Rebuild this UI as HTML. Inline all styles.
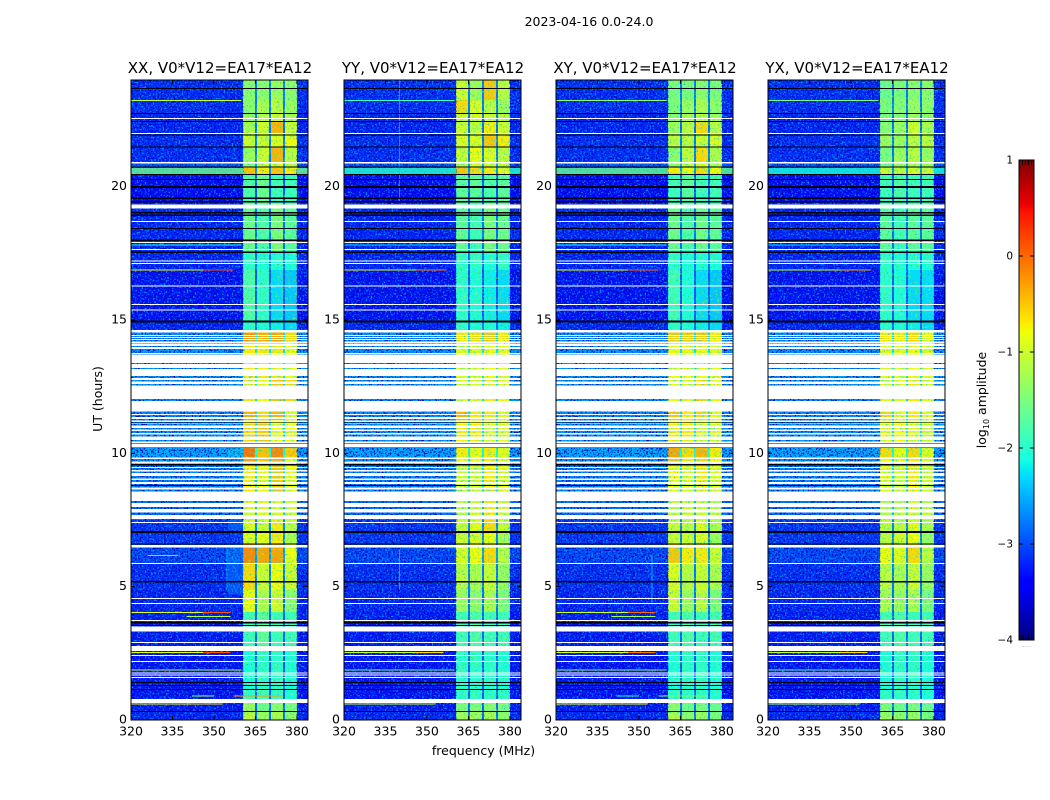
<!DOCTYPE html>
<html lang="en">
<head>
<meta charset="utf-8">
<title>2023-04-16 0.0-24.0</title>
<style>
html,body{margin:0;padding:0;background:#fff;width:1050px;height:800px;overflow:hidden}
svg{display:block}
text{font-family:"DejaVu Sans","Liberation Sans",sans-serif;fill:#000}
.cells rect,.marks rect{shape-rendering:crispEdges}
</style>
</head>
<body>
<svg id="chart" xmlns="http://www.w3.org/2000/svg" width="1050" height="800" viewBox="0 0 1050 800">
  <defs>
    <filter id="speckle-light" x="0" y="0" width="100%" height="100%" color-interpolation-filters="sRGB">
      <feTurbulence type="fractalNoise" baseFrequency="0.62" numOctaves="1" seed="3"/>
      <feColorMatrix type="matrix" values="0 0 0 0 0  0 0 0 0 0.58  0 0 0 0 1  6 0 0 0 -3.1"/>
    </filter>
    <filter id="speckle-dark" x="0" y="0" width="100%" height="100%" color-interpolation-filters="sRGB">
      <feTurbulence type="fractalNoise" baseFrequency="0.62" numOctaves="1" seed="11"/>
      <feColorMatrix type="matrix" values="0 0 0 0 0  0 0 0 0 0.02  0 0 0 0 0.72  0 6 0 0 -3.0"/>
    </filter>
    <filter id="speckle-band" x="0" y="0" width="100%" height="100%" color-interpolation-filters="sRGB">
      <feTurbulence type="fractalNoise" baseFrequency="0.5" numOctaves="1" seed="7"/>
      <feColorMatrix type="matrix" values="0 0 0 0 0.2  0 0 0 0 0.9  0 0 0 0 0.55  3 0 0 0 -1.6"/>
    </filter>
    <filter id="speckle-band-hot" x="0" y="0" width="100%" height="100%" color-interpolation-filters="sRGB">
      <feTurbulence type="fractalNoise" baseFrequency="0.45" numOctaves="1" seed="19"/>
      <feColorMatrix type="matrix" values="0 0 0 0 0.95  0 0 0 0 0.95  0 0 0 0 0.1  3 0 0 0 -1.8"/>
    </filter>
    <filter id="speckle-band-cold" x="0" y="0" width="100%" height="100%" color-interpolation-filters="sRGB">
      <feTurbulence type="fractalNoise" baseFrequency="0.7" numOctaves="1" seed="23"/>
      <feColorMatrix type="matrix" values="0 0 0 0 0  0 0 0 0 0.55  0 0 0 0 1  8 0 0 0 -5.4"/>
    </filter>
  </defs>
  <text x="589" y="26" font-size="12.5" text-anchor="middle">2023-04-16 0.0-24.0</text>
  <text x="483.5" y="755" font-size="12.5" text-anchor="middle">frequency (MHz)</text>
  <text transform="translate(102,399) rotate(-90)" font-size="12.5" text-anchor="middle">UT (hours)</text>
  <text transform="translate(986,400) rotate(-90)" font-size="12.5" text-anchor="middle">log<tspan font-size="8" dy="3">10</tspan><tspan dy="-3"> amplitude</tspan></text>
  <text x="1026" y="647" font-size="5" text-anchor="middle" style="fill:#888">......</text>
  <g id="panels"></g>
  <g id="colorbar"></g>
</svg>
<script>
// ---- data ----
const panelTitles = ["XX, V0*V12=EA17*EA12","YY, V0*V12=EA17*EA12","XY, V0*V12=EA17*EA12","YX, V0*V12=EA17*EA12"];
const freqTicks = [320,335,350,365,380];
const utTicks = [0,5,10,15,20];
const colorTicks = [1,0,-1,-2,-3,-4];
// UT hours: upper edge of each spectral block, top to bottom, ending with 0
const blockEdges = [24,23.25,22.76,22.43,21.98,21.49,20.89,20.7,20.48,19.39,17.51,16.88,15,14.59,14.06,12.75,11.55,11.25,10.2,9.86,9.56,8.25,7.5,7.05,6.6,5.89,4.88,4.05,2.81,1.13,0.64,0.34,0];
// MHz edges of the four bright sub-bands
const bandEdges = [[360.5,364.8],[365.5,369.9],[370.6,374.9],[375.7,380]];
// log10 amplitude of background per block
const bgLevel = [-3.15,-3.15,-3.2,-3.2,-3.15,-3.15,-2.9,-3.0,-3.35,-3.2,-3.2,-3.3,-3.2,-2.6,-2.6,-2.6,-2.6,-2.6,-2.5,-2.6,-2.65,-2.8,-3.1,-3.1,-3.0,-3.15,-3.2,-3.25,-3.3,-3.3,-3.25,-3.2];
// log10 amplitude per block for each sub-band
const xxBands = [[-1.4,-1.4,-1.3,-1.4],[-1.4,-1.2,-1.1,-1.3],[-1.3,-1.1,-1.0,-1.2],[-1.2,-1.0,-0.4,-1.0],[-1.0,-1.0,-0.9,-0.8],[-1.3,-1.0,-0.4,-1.1],[-1.4,-1.0,-0.8,-1.1],[-0.45,-0.7,-0.5,-0.7],[-1.8,-1.6,-1.9,-1.9],[-1.6,-1.8,-1.5,-1.7],[-2,-2.1,-2.1,-2.1],[-1.8,-2,-2.3,-2.4],[-2,-2.1,-2.2,-2.3],[-0.25,-0.35,-0.3,-0.6],[-0.7,-0.7,-0.7,-0.8],[-0.7,-0.8,-0.5,-0.6],[-0.35,-0.6,-0.4,-0.9],[-0.6,-0.5,-0.8,-0.8],[-0.05,-0.45,-0.15,-0.5],[-0.3,-0.5,-0.4,-0.8],[-0.7,-0.8,-0.5,-0.8],[-1,-0.9,-0.9,-1],[-0.9,-1,-0.7,-1.1],[-0.9,-0.85,-0.7,-1.2],[-0.15,-0.3,-0.3,-0.8],[-0.6,-1,-0.8,-1],[-0.8,-1.2,-1,-1.4],[-1.9,-1.7,-1.9,-1.9],[-2.1,-2,-2,-2.1],[-2,-1.9,-2,-2.1],[-1.3,-1.6,-1.4,-1.5],[-1.1,-1.3,-1.2,-1.4]];
const yyBands = [[-1.0,-1.3,-0.5,-1.1],[-0.6,-0.9,-1.1,-1.3],[-1,-0.9,-1,-1.1],[-1,-1.1,-0.7,-1],[-0.9,-0.9,-0.5,-0.7],[-1,-0.8,-0.9,-1.1],[-1.1,-1,-0.9,-1.1],[-0.5,-0.6,-0.7,-0.8],[-1.7,-1.7,-1.8,-1.7],[-1.7,-1.9,-1.5,-1.6],[-2,-2,-2.1,-2],[-2,-2.1,-2.2,-2.3],[-2,-2.1,-2.1,-2.2],[-0.7,-0.6,-0.5,-0.7],[-0.9,-0.9,-0.8,-0.9],[-0.9,-0.9,-0.7,-0.8],[-0.4,-0.7,-0.7,-0.9],[-0.7,-0.7,-0.9,-0.9],[-0.7,-0.8,-0.7,-0.9],[-0.8,-0.8,-0.7,-0.8],[-1,-1,-0.7,-0.9],[-1.1,-1,-0.7,-1],[-1,-0.9,-0.6,-1],[-1,-0.9,-0.8,-1.2],[-0.9,-0.8,-0.6,-1.1],[-1.1,-1.2,-1,-1.3],[-1.3,-1.4,-1.2,-1.5],[-1.9,-1.8,-1.9,-1.9],[-2,-2,-2,-2.1],[-2,-2,-2,-2],[-1.5,-1.5,-1.4,-1.5],[-1.3,-1.3,-1.2,-1.4]];
const xyBands = [[-1.5,-1.5,-1.4,-1.5],[-1.5,-1.3,-1.2,-1.4],[-1.4,-1.2,-1.1,-1.3],[-1.3,-1.1,-0.6,-1.1],[-1.1,-1.1,-1,-0.9],[-1.4,-1.1,-0.6,-1.2],[-1.4,-1.1,-0.9,-1.2],[-0.7,-0.8,-0.6,-0.8],[-1.9,-1.7,-1.9,-1.9],[-1.6,-1.8,-1.6,-1.7],[-2,-2.1,-2.1,-2.1],[-1.9,-2.1,-2.3,-2.4],[-2,-2.1,-2.2,-2.3],[-0.5,-0.5,-0.5,-0.7],[-0.8,-0.8,-0.8,-0.9],[-0.8,-0.9,-0.6,-0.8],[-0.5,-0.7,-0.6,-0.9],[-0.7,-0.7,-0.9,-0.9],[-0.3,-0.6,-0.4,-0.7],[-0.5,-0.7,-0.6,-0.8],[-0.8,-0.9,-0.7,-0.9],[-1.1,-1,-1,-1.1],[-1,-1.1,-0.9,-1.2],[-1,-1,-0.9,-1.3],[-0.5,-0.7,-0.7,-1],[-0.9,-1.1,-1,-1.2],[-1,-1.3,-1.1,-1.5],[-1.9,-1.8,-1.9,-1.9],[-2.1,-2,-2,-2.1],[-2,-2,-2,-2.1],[-1.4,-1.6,-1.5,-1.6],[-1.2,-1.4,-1.3,-1.5]];
const yxBands = [[-1.6,-1.5,-1.4,-1.4],[-1.5,-1.4,-1.3,-1.4],[-1.5,-1.4,-1.3,-1.4],[-1.4,-1.3,-1,-1.2],[-1.3,-1.3,-1.1,-1.1],[-1.5,-1.3,-1.1,-1.3],[-1.5,-1.3,-1.2,-1.3],[-1.0,-1.1,-0.9,-1],[-1.9,-1.8,-1.9,-1.9],[-1.7,-1.9,-1.7,-1.7],[-2,-2.1,-2.1,-2.1],[-2,-2.1,-2.3,-2.3],[-2,-2.1,-2.2,-2.3],[-0.7,-0.7,-0.6,-0.8],[-0.9,-0.9,-0.8,-0.9],[-0.9,-0.9,-0.7,-0.9],[-0.6,-0.8,-0.7,-0.9],[-0.8,-0.8,-0.9,-1],[-0.6,-0.8,-0.6,-0.9],[-0.8,-0.8,-0.7,-0.9],[-0.9,-1,-0.7,-1],[-1.2,-1.1,-1,-1.1],[-1.1,-1.1,-0.9,-1.2],[-1.1,-1,-0.8,-1.3],[-0.8,-0.9,-0.6,-1.1],[-1.1,-1.2,-1,-1.3],[-1.2,-1.3,-1.2,-1.5],[-1.9,-1.8,-1.9,-1.9],[-2.1,-2,-2,-2.1],[-2,-2,-2,-2.1],[-1.5,-1.6,-1.5,-1.6],[-1.3,-1.4,-1.3,-1.5]];
// broadband bright row near 20.6 h, level in each panel
const brightRowHours = [20.48,20.7];
const brightRowLevel = [-1.6,-2.0,-1.65,-2.1];
// UT hour ranges with flagged (blank) data
const flaggedRanges = [[22.54,22.58],[21.98,22.01],[20.87,20.93],[19.18,19.33],[18.68,18.71],[17.89,17.93],[17.63,17.66],[17.19,17.23],[17.10,17.14],[16.26,16.30],[15.56,15.60],[15.36,15.39],[14.53,14.63],[14.40,14.44],[14.33,14.36],[14.25,14.29],[14.14,14.19],[14.03,14.12],[13.91,13.99],[13.73,13.76],[13.39,13.71],[13.20,13.35],[12.90,13.16],[12.75,12.83],[12.60,12.69],[12.04,12.54],[11.56,11.96],[11.44,11.47],[11.29,11.36],[11.18,11.24],[11.10,11.12],[10.95,11.04],[10.84,10.89],[10.71,10.76],[10.50,10.63],[10.37,10.44],[10.22,10.35],[9.79,9.84],[9.62,9.69],[9.45,9.49],[9.32,9.38],[9.15,9.26],[9.00,9.06],[8.85,8.93],[8.64,8.72],[8.22,8.57],[7.99,8.14],[7.78,7.91],[7.53,7.69],[7.39,7.43],[6.46,6.57],[5.85,5.89],[4.54,4.58],[4.35,4.39],[3.71,3.75],[3.31,3.50],[2.89,2.93],[2.59,2.78],[2.40,2.44],[2.18,2.21],[1.74,1.78],[1.67,1.71],[1.58,1.61],[0.63,0.79]];
// UT hour ranges with near-zero amplitude
const darkRanges = [[23.66,23.70],[22.72,22.76],[22.42,22.46],[21.92,21.96],[21.47,21.51],[20.72,20.76],[20.44,20.48],[20.25,20.29],[19.95,20.03],[19.54,19.59],[19.41,19.46],[19.00,19.05],[18.90,18.96],[18.41,18.45],[17.96,18.02],[17.51,17.57],[14.91,14.98],[11.13,11.16],[10.35,10.37],[10.20,10.23],[9.54,9.60],[8.78,8.81],[7.02,7.08],[6.58,6.62],[5.16,5.21],[3.62,3.68],[3.53,3.56],[1.39,1.43],[1.28,1.31],[1.13,1.16],[0.30,0.34]];
// interference lines
const rfiHour = [23.23,17.81,16.88,16.88,4.04,4.04,3.89,2.53,2.53,1.88,0.90,0.90,0.60,6.16];
const rfiFreqStart = [320,320,320,346,320,346,340,320,346,320,342,357,320,326];
const rfiFreqEnd = [360,360,346,357,346,356,356,346,356,360,350,375,353,337];
const rfiLevelXX = [-1.0,-2,-0.8,0.1,-0.9,0.1,-1.2,-0.9,0.1,-1.1,-1.3,-0.3,-0.7,-2];
const rfiLevelYY = [-1.9,-2.3,-0.9,-0.1,-3,-3,-3,-1.1,-0.6,-1.6,-3,-3,-1,-3];
const rfiLevelXY = [-1.4,-2.1,-0.8,0,-1.0,0,-1.3,-1,-0.1,-1.3,-2,-1.5,-0.8,-3];
const rfiLevelYX = [-1.5,-2.3,-1,-0.3,-3,-3,-3,-1.1,-0.6,-1.7,-3,-3,-1.1,-3];
// faint narrow-band tone lines
const tonePanel = [0,1,1,2];
const toneFreq = [354.6,339.8,339.8,354.6];
const toneHourStart = [4.9,4.9,19.4,4.4];
const toneHourEnd = [6.4,6.4,24,6.2];
const toneLevel = [-2.3,-2.3,-2.4,-2.2];
// smooth haze below the bright bands (XX panel only)
const hazeRanges = [[4.7,6.6],[7.1,7.5],[9.86,10.2]];
const hazeLevel = [-2.55,-2.6,-2.2];
const hazeFreqStart = 355;
// ---- layout ----
const axesLeft = [131,344,556,768];
const axesWidth = 177, axesTop = 80, axesBottom = 720;
const freqMin = 320, freqMax = 384, utMax = 24;
const panelBands = [xxBands,yyBands,xyBands,yxBands];
const panelRfi = [rfiLevelXX,rfiLevelYY,rfiLevelXY,rfiLevelYX];
const svgNS = "http://www.w3.org/2000/svg";
function xScale(p,f){return axesLeft[p]+(f-freqMin)*axesWidth/(freqMax-freqMin);}
function yScale(h){return axesBottom-h*(axesBottom-axesTop)/utMax;}
function clamp(v){return Math.max(0,Math.min(1,v));}
function lerpRamp(t,pts){
  for(let i=1;i<pts.length;i++){
    if(t<=pts[i][0]){
      const a=pts[i-1],b=pts[i];
      return a[1]+(b[1]-a[1])*(t-a[0])/(b[0]-a[0]);
    }
  }
  return pts[pts.length-1][1];
}
function jet(level){
  const t=clamp((level+4)/5);
  const r=lerpRamp(t,[[0,0],[0.35,0],[0.66,1],[0.89,1],[1,0.5]]);
  const g=lerpRamp(t,[[0,0],[0.125,0],[0.375,1],[0.64,1],[0.91,0],[1,0]]);
  const b=lerpRamp(t,[[0,0.5],[0.11,1],[0.34,1],[0.65,0],[1,0]]);
  return "rgb("+Math.round(r*255)+","+Math.round(g*255)+","+Math.round(b*255)+")";
}
function addRect(parent,x,y,w,h,fill){
  const r=document.createElementNS(svgNS,"rect");
  r.setAttribute("x",x);
  r.setAttribute("y",y);
  r.setAttribute("width",w);
  r.setAttribute("height",h);
  r.setAttribute("fill",fill);
  parent.appendChild(r);
  return r;
}
function addText(parent,x,y,size,anchor,str){
  const t=document.createElementNS(svgNS,"text");
  t.setAttribute("x",x);
  t.setAttribute("y",y);
  t.setAttribute("font-size",size);
  t.setAttribute("text-anchor",anchor);
  t.textContent=str;
  parent.appendChild(t);
  return t;
}
const panelsRoot=document.getElementById("panels");
panelTitles.forEach(function(title,p){
  const g=document.createElementNS(svgNS,"g");
  
  
  panelsRoot.appendChild(g);
  const cells=document.createElementNS(svgNS,"g");
  cells.setAttribute("class","cells");
  
  
  g.appendChild(cells);
  const left=axesLeft[p];
  const bands=panelBands[p];
  for(let b=0;b<bgLevel.length;b++){
    const yTop=yScale(blockEdges[b]), yBot=yScale(blockEdges[b+1]);
    const bgCell=addRect(cells,left,yTop,axesWidth,yBot-yTop,jet(bgLevel[b]));
    
    
    const gapCell=addRect(cells,xScale(p,bandEdges[0][0]),yTop,xScale(p,bandEdges[3][1])-xScale(p,bandEdges[0][0]),yBot-yTop,jet(bgLevel[b]+0.35));
    
    
    bandEdges.forEach(function(edge,k){
      const cell=addRect(cells,xScale(p,edge[0]),yTop,xScale(p,edge[1])-xScale(p,edge[0]),yBot-yTop,jet(bands[b][k]));
      
      
    });
  }
  const bgEnd=xScale(p,bandEdges[0][0]);
  const hiStart=xScale(p,bandEdges[3][1]);
  const speckles=[[left,bgEnd-left,"speckle-light"],[left,bgEnd-left,"speckle-dark"],[hiStart,left+axesWidth-hiStart,"speckle-light"],[hiStart,left+axesWidth-hiStart,"speckle-dark"],[bgEnd,hiStart-bgEnd,"speckle-band"],[bgEnd,hiStart-bgEnd,"speckle-band-hot"],[bgEnd,hiStart-bgEnd,"speckle-band-cold"]];
  speckles.forEach(function(s){
    const sp=addRect(g,s[0],axesTop,s[1],axesBottom-axesTop,"#000");
    sp.setAttribute("filter","url(#"+s[2]+")");
    
    
  });
  const marks=document.createElementNS(svgNS,"g");
  marks.setAttribute("class","marks");
  
  
  g.appendChild(marks);
  const brightTop=yScale(brightRowHours[1]);
  const brightLeft=addRect(marks,left,brightTop,bgEnd-left,yScale(brightRowHours[0])-brightTop,jet(brightRowLevel[p]));
  brightLeft.setAttribute("opacity","0.8");
  
  
  const brightRight=addRect(marks,hiStart,brightTop,left+axesWidth-hiStart,yScale(brightRowHours[0])-brightTop,jet(brightRowLevel[p]));
  brightRight.setAttribute("opacity","0.8");
  
  
  if(p===0){
    hazeRanges.forEach(function(d,i){
      const hx=xScale(p,hazeFreqStart);
      const haze=addRect(marks,hx,yScale(d[1]),bgEnd-hx,yScale(d[0])-yScale(d[1]),jet(hazeLevel[i]));
      haze.setAttribute("opacity","0.35");
      
      
    });
  }
  toneFreq.forEach(function(f,i){
    if(tonePanel[i]!==p)return;
    const tone=addRect(marks,xScale(p,f),yScale(toneHourEnd[i]),1,yScale(toneHourStart[i])-yScale(toneHourEnd[i]),jet(toneLevel[i]));
    tone.setAttribute("opacity","0.7");
    
    
  });
  rfiHour.forEach(function(h,i){
    const level=panelRfi[p][i];
    if(level<=-3)return;
    const x0=xScale(p,rfiFreqStart[i]);
    const line=addRect(marks,x0,yScale(h)-0.5,xScale(p,rfiFreqEnd[i])-x0,1,jet(level));
    
    
  });
  darkRanges.forEach(function(d){
    const dark=addRect(marks,left,yScale(d[1]),axesWidth,yScale(d[0])-yScale(d[1]),"#00000f");
    
    
  });
  flaggedRanges.forEach(function(d){
    const flag=addRect(marks,left,yScale(d[1]),axesWidth,yScale(d[0])-yScale(d[1]),"#fff");
    
    
  });
  const frame=document.createElementNS(svgNS,"rect");
  frame.setAttribute("x",left);
  frame.setAttribute("y",axesTop);
  frame.setAttribute("width",axesWidth);
  frame.setAttribute("height",axesBottom-axesTop);
  frame.setAttribute("fill","none");
  frame.setAttribute("stroke","#000");
  frame.setAttribute("stroke-width","1");
  
  
  g.appendChild(frame);
  const titleEl=addText(g,left+axesWidth/2+0.5,73,15,"middle",title);
  
  
  freqTicks.forEach(function(f){
    const x=xScale(p,f);
    const tb=addRect(g,x-0.5,axesBottom-4,1,4,"#000");
    
    
    const tt=addRect(g,x-0.5,axesTop,1,4,"#000");
    
    
    const lab=addText(g,x,735.5,12.5,"middle",String(f));
    
    
  });
  utTicks.forEach(function(h){
    const y=yScale(h);
    const tl=addRect(g,left,y-0.5,4,1,"#000");
    
    
    const tr=addRect(g,left+axesWidth-4,y-0.5,4,1,"#000");
    
    
    const lab=addText(g,left-4,y+3.5,12.5,"end",String(h));
    
    
  });
});
// colorbar
const cb=document.getElementById("colorbar");
const cbLeft=1019,cbWidth=15,cbTop=160,cbBottom=640;
function cbScale(v){return cbBottom-(v+4)*(cbBottom-cbTop)/5;}
for(let i=0;i<240;i++){
  const v=-4+5*(i+0.5)/240;
  const sw=addRect(cb,cbLeft,cbScale(v)-1.5,cbWidth,2.5,jet(v));
  sw.setAttribute("shape-rendering","crispEdges");
  
  
}
const cbFrame=document.createElementNS(svgNS,"rect");
cbFrame.setAttribute("x",cbLeft);
cbFrame.setAttribute("y",cbTop);
cbFrame.setAttribute("width",cbWidth);
cbFrame.setAttribute("height",cbBottom-cbTop);
cbFrame.setAttribute("fill","none");
cbFrame.setAttribute("stroke","#000");


cb.appendChild(cbFrame);
colorTicks.forEach(function(v){
  const y=cbScale(v);
  const t1=addRect(cb,cbLeft,y-0.5,4,1,"#000");
  
  
  const t2=addRect(cb,cbLeft+cbWidth-4,y-0.5,4,1,"#000");
  
  
  const lab=addText(cb,1013,y+3.5,10.5,"end",String(v).replace("-","\u2212"));
  
  
});
for(let i=1;i<5;i++){
  const top=addRect(cb,cbLeft+i*3,cbTop,1,5,"#000");
  
  
  const bottom=addRect(cb,cbLeft+i*3,cbBottom-5,1,5,"#000");
  
  
}
</script>
</body>
</html>
